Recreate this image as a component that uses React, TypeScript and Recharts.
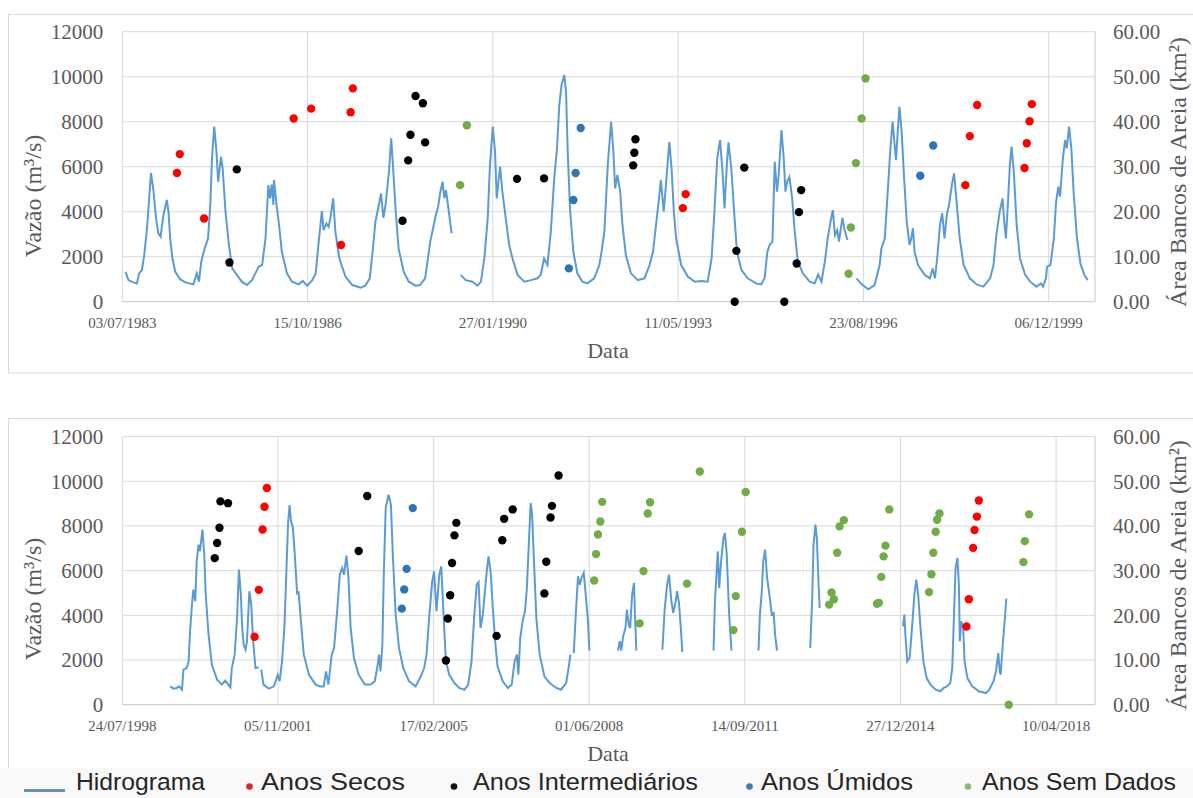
import React from "react";
import {
  ComposedChart,
  Line,
  Scatter,
  XAxis,
  YAxis,
  ZAxis,
  CartesianGrid,
} from "recharts";

// tick labels (Excel date axis, major unit 1200 days)
const ticksTopo = ["03/07/1983", "15/10/1986", "27/01/1990", "11/05/1993", "23/08/1996", "06/12/1999"];
const ticksBase = ["24/07/1998", "05/11/2001", "17/02/2005", "01/06/2008", "14/09/2011", "27/12/2014", "10/04/2018"];
const vazaoTicks = [0, 2000, 4000, 6000, 8000, 10000, 12000];
const areaTicks = [0, 10, 20, 30, 40, 50, 60];

// hidrograma 1983-2000 [ano decimal, vazão m3/s], one list per continuous stretch
const hidroTopo: number[][][] = [
  [
    [1983.56, 1330], [1983.61, 960], [1983.7, 860], [1983.76, 815], [1983.8, 1260], [1983.85, 1410], [1983.89, 2070],
    [1983.94, 3260], [1983.97, 4300], [1984.01, 5730], [1984.05, 5030], [1984.1, 3700], [1984.14, 3040], [1984.18, 2890],
    [1984.23, 3850], [1984.29, 4520], [1984.32, 4000], [1984.35, 2810], [1984.39, 1920], [1984.44, 1330], [1984.53, 990],
    [1984.62, 860], [1984.69, 815], [1984.76, 770], [1984.82, 1260], [1984.86, 890], [1984.9, 1780], [1984.96, 2370],
    [1985.02, 2810], [1985.06, 4300], [1985.09, 6370], [1985.13, 7780], [1985.17, 6660], [1985.2, 5330], [1985.25, 6440],
    [1985.28, 5920], [1985.33, 4000], [1985.39, 2520], [1985.45, 1480], [1985.53, 1190], [1985.62, 890], [1985.71, 740],
    [1985.8, 960], [1985.86, 1260], [1985.92, 1560], [1985.98, 1630], [1986.04, 2810], [1986.09, 5180], [1986.12, 4590],
    [1986.15, 5210], [1986.18, 4300], [1986.19, 5410], [1986.23, 4440], [1986.28, 3410], [1986.33, 2220], [1986.42, 1260],
    [1986.51, 890], [1986.63, 770], [1986.7, 920], [1986.78, 710], [1986.87, 960], [1986.93, 1260], [1986.99, 2810],
    [1987.04, 4030], [1987.07, 3180], [1987.12, 3480], [1987.16, 3330], [1987.19, 3700], [1987.24, 4590], [1987.28, 3110],
    [1987.35, 1920], [1987.46, 1110], [1987.58, 740], [1987.73, 620], [1987.81, 710], [1987.89, 1040], [1987.94, 2220],
    [1987.99, 3550], [1988.05, 4300], [1988.09, 4810], [1988.13, 3730], [1988.17, 4300], [1988.23, 5780], [1988.27, 7260],
    [1988.3, 6070], [1988.35, 4000], [1988.4, 2370], [1988.49, 1330], [1988.58, 890], [1988.7, 710], [1988.78, 740],
    [1988.87, 1040], [1988.96, 2670], [1989.06, 3850], [1989.1, 4220], [1989.14, 4890], [1989.18, 5330], [1989.21, 4600],
    [1989.24, 4960], [1989.29, 4000], [1989.34, 3040],
  ],
  [
    [1989.5, 1190], [1989.59, 960], [1989.71, 890], [1989.8, 710], [1989.86, 890], [1989.92, 1920], [1989.98, 3700],
    [1990.02, 6070], [1990.07, 7780], [1990.11, 6660], [1990.14, 4590], [1990.17, 5330], [1990.2, 6000], [1990.24, 4890],
    [1990.3, 3700], [1990.36, 2520], [1990.42, 1920], [1990.51, 1190], [1990.63, 890], [1990.75, 960], [1990.86, 1040],
    [1990.92, 1190], [1990.98, 1920], [1991.04, 1630], [1991.1, 3110], [1991.16, 5480], [1991.21, 6810], [1991.25, 8740],
    [1991.29, 9630], [1991.34, 10070], [1991.37, 9330], [1991.4, 6660], [1991.44, 4150], [1991.5, 2220], [1991.57, 1260],
    [1991.66, 890], [1991.75, 815], [1991.87, 1040], [1991.96, 1630], [1992.0, 2220], [1992.05, 3110], [1992.11, 6070],
    [1992.17, 8000], [1992.21, 6660], [1992.24, 5030], [1992.28, 5630], [1992.33, 4890], [1992.37, 3410], [1992.43, 2070],
    [1992.52, 1260], [1992.64, 960], [1992.76, 1040], [1992.85, 1630], [1992.91, 2220], [1992.97, 3550], [1993.01, 4440],
    [1993.05, 5410], [1993.1, 4000], [1993.14, 5180], [1993.2, 7110], [1993.24, 5920], [1993.28, 4000], [1993.32, 2810],
    [1993.41, 1630], [1993.53, 1110], [1993.65, 890], [1993.77, 920], [1993.88, 890], [1993.95, 1920], [1994.0, 4000],
    [1994.05, 6370], [1994.1, 7180], [1994.14, 5920], [1994.18, 4150], [1994.22, 6070], [1994.25, 7080], [1994.3, 5920],
    [1994.35, 4000], [1994.4, 2220], [1994.48, 1410], [1994.59, 1040], [1994.74, 815], [1994.83, 770], [1994.89, 1040],
    [1994.94, 2220], [1994.98, 2520], [1995.03, 2670], [1995.07, 6220], [1995.11, 4890], [1995.14, 5630], [1995.19, 7630],
    [1995.23, 6370], [1995.26, 4890], [1995.29, 5330], [1995.33, 5550], [1995.38, 4590], [1995.42, 3260], [1995.48, 1780],
    [1995.57, 1260], [1995.69, 890], [1995.78, 815], [1995.84, 1210], [1995.9, 890], [1995.96, 1780], [1996.01, 2810],
    [1996.06, 3550], [1996.1, 4070], [1996.14, 2960], [1996.18, 3180], [1996.21, 2670], [1996.27, 3730], [1996.31, 3180],
    [1996.36, 2740],
  ],
  [
    [1996.52, 1040], [1996.61, 770], [1996.73, 550], [1996.84, 740], [1996.93, 1630], [1996.96, 2370], [1997.02, 2810],
    [1997.08, 5180], [1997.12, 6810], [1997.16, 8000], [1997.19, 7110], [1997.22, 6290], [1997.25, 7550], [1997.28, 8660],
    [1997.32, 7550], [1997.36, 5630], [1997.41, 3550], [1997.46, 2520], [1997.49, 2810], [1997.52, 3260], [1997.55, 2220],
    [1997.61, 1630], [1997.73, 1190], [1997.82, 1040], [1997.87, 1480], [1997.91, 1040], [1997.95, 1920], [1998.0, 3410],
    [1998.04, 3930], [1998.08, 2810], [1998.12, 3850], [1998.16, 4300], [1998.21, 5180], [1998.25, 5700], [1998.29, 4590],
    [1998.35, 2810], [1998.42, 1630], [1998.53, 1040], [1998.65, 770], [1998.77, 670], [1998.89, 1040], [1998.95, 1630],
    [1999.0, 2960], [1999.06, 4000], [1999.11, 4590], [1999.14, 3550], [1999.17, 2810], [1999.21, 4590], [1999.24, 6070],
    [1999.27, 6890], [1999.31, 5780], [1999.36, 3410], [1999.42, 1920], [1999.51, 1210], [1999.6, 890], [1999.71, 670],
    [1999.79, 815], [1999.83, 670], [1999.88, 1040], [1999.9, 1560], [1999.96, 1630], [2000.02, 2810], [2000.06, 4440],
    [2000.1, 5110], [2000.13, 4670], [2000.18, 6370], [2000.22, 7180], [2000.25, 6810], [2000.29, 7780], [2000.33, 6810],
    [2000.37, 4890], [2000.43, 2810], [2000.49, 1700], [2000.56, 1190], [2000.62, 960],
  ],
];

// área de bancos de areia 1983-2000 [ano decimal, km2]
const secosTopo = [
  [1984.47, 28.6], [1984.52, 32.8], [1984.95, 18.5], [1986.54, 40.7], [1986.85, 42.9], [1987.38, 12.6], [1987.55, 42.1],
  [1987.59, 47.4], [1993.44, 20.8], [1993.49, 23.9], [1998.45, 25.9], [1998.53, 36.8], [1998.66, 43.7], [1999.5, 29.7],
  [1999.54, 35.2], [1999.59, 40.1], [1999.63, 43.9],
];
const interTopo = [
  [1985.4, 8.7], [1985.53, 29.4], [1988.47, 18.0], [1988.57, 31.4], [1988.61, 37.1], [1988.7, 45.7], [1988.83, 44.1],
  [1988.87, 35.4], [1990.5, 27.3], [1990.98, 27.4], [1992.56, 30.3], [1992.58, 33.1], [1992.6, 36.1], [1994.36, 0],
  [1994.39, 11.3], [1994.53, 29.8], [1995.24, 0], [1995.46, 8.5], [1995.5, 19.9], [1995.54, 24.8],
];
const umidosTopo = [
  [1991.42, 7.4], [1991.5, 22.6], [1991.54, 28.6], [1991.63, 38.6], [1997.65, 28.0], [1997.88, 34.7],
];
const semDadosTopo = [
  [1989.49, 25.9], [1989.61, 39.2], [1996.38, 6.2], [1996.42, 16.5], [1996.51, 30.8], [1996.61, 40.7], [1996.68, 49.6],
];

// hidrograma 1999-2017
const hidroBase: number[][][] = [
  [
    [1999.57, 820], [1999.64, 720], [1999.71, 750], [1999.76, 820], [1999.82, 670], [1999.85, 1570], [1999.92, 1640],
    [1999.96, 1940], [1999.99, 3280], [2000.03, 4480], [2000.06, 5150], [2000.1, 4630], [2000.13, 6420], [2000.17, 7160],
    [2000.2, 6870], [2000.25, 7840], [2000.29, 6720], [2000.32, 4930], [2000.38, 3130], [2000.45, 1790], [2000.56, 1120],
    [2000.66, 900], [2000.73, 1080], [2000.84, 780], [2000.87, 1640], [2000.93, 2240], [2000.98, 3880], [2001.02, 6050],
    [2001.06, 4930], [2001.09, 3430], [2001.12, 2690], [2001.16, 2460], [2001.19, 2840], [2001.24, 5080], [2001.28, 4480],
    [2001.32, 2840], [2001.37, 1640], [2001.44, 1670],
  ],
  [
    [2001.49, 1570], [2001.54, 900], [2001.65, 720], [2001.76, 820], [2001.84, 1340], [2001.88, 1050], [2001.93, 1940],
    [2001.98, 3430], [2002.02, 5820], [2002.06, 8210], [2002.09, 8930], [2002.12, 8210], [2002.16, 7910], [2002.2, 6720],
    [2002.25, 4930], [2002.28, 5080], [2002.33, 3730], [2002.39, 2240], [2002.5, 1340], [2002.64, 900], [2002.74, 820],
    [2002.81, 820], [2002.86, 1490], [2002.91, 900], [2002.98, 2240], [2003.03, 2540], [2003.1, 4330], [2003.15, 5820],
    [2003.2, 6120], [2003.24, 5820], [2003.29, 6670], [2003.33, 5820], [2003.38, 3430], [2003.45, 2090], [2003.55, 1340],
    [2003.68, 900], [2003.8, 900], [2003.89, 1050], [2003.94, 1640], [2003.98, 2240], [2004.01, 1490], [2004.05, 2690],
    [2004.08, 5820], [2004.12, 8810], [2004.18, 9400], [2004.23, 8960], [2004.27, 6720], [2004.33, 4030], [2004.4, 2540],
    [2004.49, 1640], [2004.61, 1050], [2004.75, 820], [2004.86, 1270], [2004.93, 1640], [2004.98, 2240], [2005.04, 4030],
    [2005.1, 5520], [2005.14, 5970], [2005.19, 4180], [2005.25, 5820], [2005.29, 6190], [2005.34, 4030], [2005.39, 1940],
    [2005.46, 1340], [2005.57, 970], [2005.67, 750], [2005.78, 670], [2005.86, 900], [2005.93, 1940], [2005.99, 4030],
    [2006.04, 5370], [2006.08, 5490], [2006.12, 3430], [2006.17, 4030], [2006.22, 5220], [2006.26, 6120], [2006.29, 6640],
    [2006.34, 5820], [2006.38, 4330], [2006.43, 2840], [2006.48, 1720], [2006.59, 1050], [2006.7, 750], [2006.78, 900],
    [2006.84, 1940], [2006.89, 2240], [2006.92, 1340], [2006.96, 2990], [2007.01, 3730], [2007.06, 4180], [2007.1, 5220],
    [2007.14, 7160], [2007.18, 9030], [2007.21, 8510], [2007.25, 6420], [2007.3, 3880], [2007.37, 2240], [2007.47, 1270],
    [2007.58, 970], [2007.72, 750], [2007.82, 670], [2007.93, 970], [2007.98, 1640], [2008.02, 2240],
  ],
  [
    [2008.09, 2310], [2008.14, 4330], [2008.18, 5750], [2008.22, 5370], [2008.25, 5670], [2008.3, 5900], [2008.33, 5220],
    [2008.39, 3730], [2008.42, 2420],
  ],
  [
    [2009.02, 2420], [2009.06, 2840], [2009.09, 2420], [2009.13, 3060], [2009.18, 3430], [2009.21, 4250], [2009.25, 3580],
    [2009.28, 3430], [2009.32, 4930], [2009.36, 5450], [2009.38, 4030], [2009.41, 2420],
  ],
  [
    [2009.96, 2460], [2010.01, 4330], [2010.06, 5370], [2010.1, 5820], [2010.15, 4630], [2010.19, 4100], [2010.24, 4630],
    [2010.27, 5080], [2010.31, 4550], [2010.35, 3430], [2010.38, 2360],
  ],
  [
    [2011.04, 2420], [2011.07, 4630], [2011.13, 6870], [2011.16, 5220], [2011.2, 6420], [2011.25, 7460], [2011.28, 7690],
    [2011.32, 6720], [2011.37, 4030], [2011.42, 2420],
  ],
  [
    [2011.99, 2420], [2012.02, 4030], [2012.06, 5080], [2012.09, 6420], [2012.13, 6940], [2012.17, 5700], [2012.22, 4930],
    [2012.27, 4030], [2012.31, 4100], [2012.34, 3130], [2012.38, 2420],
  ],
  [
    [2013.08, 2540], [2013.12, 4630], [2013.15, 7160], [2013.19, 8060], [2013.22, 7460], [2013.26, 5220], [2013.28, 4330],
  ],
  [
    [2015.04, 3510], [2015.07, 4030], [2015.09, 3130], [2015.13, 1940], [2015.18, 2090], [2015.23, 3430], [2015.28, 4930],
    [2015.32, 5600], [2015.36, 4930], [2015.41, 3430], [2015.47, 1940], [2015.54, 1190], [2015.62, 900], [2015.73, 670],
    [2015.83, 600], [2015.9, 750], [2015.97, 820], [2016.04, 970], [2016.08, 1640], [2016.12, 4180], [2016.15, 6120],
    [2016.19, 6570], [2016.22, 5370], [2016.24, 2840], [2016.27, 3730], [2016.31, 3430], [2016.34, 1940], [2016.4, 1190],
    [2016.5, 820], [2016.64, 600], [2016.79, 520], [2016.86, 670], [2016.95, 1050], [2017.0, 1490], [2017.05, 2310],
    [2017.08, 1490], [2017.1, 1340], [2017.15, 2840], [2017.19, 3880], [2017.22, 4750],
  ],
];

const secosBase = [
  [2001.35, 15.2], [2001.44, 25.7], [2001.52, 39.2], [2001.56, 44.3], [2001.61, 48.5], [2016.38, 17.5], [2016.43, 23.6],
  [2016.52, 35.1], [2016.55, 39.1], [2016.6, 42.1], [2016.64, 45.7],
];
const interBase = [
  [2000.51, 32.8], [2000.56, 36.2], [2000.61, 39.6], [2000.63, 45.5], [2000.79, 45.1], [2003.55, 34.4], [2003.73, 46.7],
  [2005.39, 9.9], [2005.43, 19.3], [2005.48, 24.5], [2005.52, 31.7], [2005.57, 37.9], [2005.61, 40.7], [2006.46, 15.4],
  [2006.58, 36.8], [2006.62, 41.6], [2006.8, 43.7], [2007.47, 24.9], [2007.51, 32.0], [2007.6, 41.9], [2007.63, 44.5],
  [2007.77, 51.3],
];
const umidosBase = [[2004.46, 21.5], [2004.51, 25.8], [2004.56, 30.4], [2004.69, 44.0]];
const semDadosBase = [
  [2008.52, 27.8], [2008.56, 33.7], [2008.6, 38.1], [2008.65, 41.0], [2008.69, 45.4], [2009.48, 18.2], [2009.56, 29.9],
  [2009.65, 42.8], [2009.7, 45.3], [2010.48, 27.1], [2010.75, 52.2], [2011.46, 16.7], [2011.51, 24.3], [2011.64, 38.7],
  [2011.72, 47.6], [2013.48, 22.4], [2013.53, 25.1], [2013.58, 23.6], [2013.65, 34.0], [2013.7, 39.9], [2013.79, 41.3],
  [2014.49, 22.6], [2014.53, 22.8], [2014.58, 28.6], [2014.63, 33.2], [2014.67, 35.6], [2014.75, 43.7], [2015.59, 25.2],
  [2015.64, 29.2], [2015.68, 34.0], [2015.73, 38.7], [2015.76, 41.4], [2015.81, 42.8], [2017.27, 0], [2017.58, 31.9],
  [2017.61, 36.6], [2017.7, 42.6],
];

// Excel serial dates (day 25569 = 01/01/1970)
const DAY = 86400000;
const fromLabel = (s: string) => {
  const [d, m, y] = s.split("/").map(Number);
  return Date.UTC(y, m - 1, d) / DAY + 25569;
};
const fromYear = (y: number) => {
  const Y = Math.floor(y);
  const start = Date.UTC(Y, 0, 1) / DAY;
  const len = Date.UTC(Y + 1, 0, 1) / DAY - start;
  return start + (y - Y) * len + 25569;
};
const toLabel = (v: number) => {
  const d = new Date(Math.round(v - 25569) * DAY);
  const p = (n: number) => String(n).padStart(2, "0");
  return `${p(d.getUTCDate())}/${p(d.getUTCMonth() + 1)}/${d.getUTCFullYear()}`;
};

const linha = (segs: number[][][]) => {
  const out: { t: number; q: number | null }[] = [];
  segs.forEach((seg, i) => {
    if (i > 0) out.push({ t: fromYear(seg[0][0]) - 1, q: null });
    seg.forEach(([y, q]) => out.push({ t: fromYear(y), q }));
  });
  return out;
};
const pontos = (arr: number[][]) => arr.map(([y, a]) => ({ t: fromYear(y), a }));

const GRAY = "#595959";
const GRID = "#d9d9d9";
const SERIF = "'Liberation Serif', 'Times New Roman', serif";

interface PainelProps {
  top: number;
  height: number;
  plotTop: number;
  plotBottom: number;
  xMax: number;
  tickLabels: string[];
  hidro: number[][][];
  secos: number[][];
  inter: number[][];
  umidos: number[][];
  semDados: number[][];
}

function Painel(p: PainelProps) {
  const ticks = p.tickLabels.map(fromLabel);
  return (
    <div style={{ position: "absolute", left: 0, top: p.top, width: 1193, height: p.height }}>
      <ComposedChart width={1193} height={p.height} margin={{ top: p.plotTop, right: 0, bottom: 0, left: 0 }}>
        <CartesianGrid xAxisId="t" yAxisId="q" stroke={GRID} />
        <XAxis
          xAxisId="t"
          type="number"
          dataKey="t"
          domain={[ticks[0], p.xMax]}
          ticks={ticks}
          tickFormatter={toLabel}
          height={p.height - p.plotBottom}
          tickLine={false}
          axisLine={{ stroke: "#cfcfcf" }}
          tickMargin={9.5}
          tick={{ fill: GRAY, fontSize: 15, fontFamily: SERIF }}
          allowDataOverflow
        />
        <YAxis
          yAxisId="q"
          domain={[0, 12000]}
          ticks={vazaoTicks}
          width={122.3}
          tickLine={false}
          axisLine={false}
          tickMargin={13}
          tick={{ fill: GRAY, fontSize: 21, fontFamily: SERIF }}
        />
        <YAxis
          yAxisId="a"
          orientation="right"
          dataKey="a"
          domain={[0, 60]}
          ticks={areaTicks}
          tickFormatter={(v: number) => v.toFixed(2)}
          width={98}
          tickLine={false}
          axisLine={{ stroke: GRID }}
          tickMargin={12}
          tick={{ fill: GRAY, fontSize: 21, fontFamily: SERIF }}
        />
        <ZAxis range={[55, 55]} />
        <Line
          xAxisId="t"
          yAxisId="q"
          data={linha(p.hidro)}
          dataKey="q"
          stroke="#5b9bd5"
          strokeWidth={2}
          dot={false}
          connectNulls={false}
          isAnimationActive={false}
        />
        <Scatter xAxisId="t" yAxisId="a" data={pontos(p.secos)} dataKey="a" fill="#ff0000" isAnimationActive={false} />
        <Scatter xAxisId="t" yAxisId="a" data={pontos(p.inter)} dataKey="a" fill="#000000" isAnimationActive={false} />
        <Scatter xAxisId="t" yAxisId="a" data={pontos(p.umidos)} dataKey="a" fill="#2e75b6" isAnimationActive={false} />
        <Scatter xAxisId="t" yAxisId="a" data={pontos(p.semDados)} dataKey="a" fill="#70ad47" isAnimationActive={false} />
      </ComposedChart>
    </div>
  );
}

const legenda = [
  { nome: "Anos Secos", cor: "#d8262b", dot: 249.5, x: 261, w: 144 },
  { nome: "Anos Intermediários", cor: "#111111", dot: 454, x: 473, w: 225 },
  { nome: "Anos Úmidos", cor: "#4a78b0", dot: 749.5, x: 761, w: 152 },
  { nome: "Anos Sem Dados", cor: "#8db872", dot: 968, x: 982, w: 194 },
];

function Titulos({ dy }: { dy: number }) {
  const t = { fill: GRAY, fontFamily: SERIF, textAnchor: "middle" as const, dominantBaseline: "central" as const };
  return (
    <g>
      <text {...t} x={33} y={196 + dy} fontSize={24} transform={`rotate(-90 33 ${196 + dy})`}>
        Vazão (m³/s)
      </text>
      <text {...t} x={1178} y={172 + dy} fontSize={24} transform={`rotate(-90 1178 ${172 + dy})`}>
        Área Bancos de Areia (km²)
      </text>
      <text {...t} x={608} y={350 + dy} fontSize={22}>
        Data
      </text>
    </g>
  );
}

export default function App() {
  return (
    <div style={{ position: "absolute", left: 0, top: 0, width: 1193, height: 798, background: "#fff", overflow: "hidden" }}>
      <Painel
        top={0}
        height={380}
        plotTop={31.7}
        plotBottom={301.7}
        xMax={36800}
        tickLabels={ticksTopo}
        hidro={hidroTopo}
        secos={secosTopo}
        inter={interTopo}
        umidos={umidosTopo}
        semDados={semDadosTopo}
      />
      <Painel
        top={400}
        height={380}
        plotTop={36.6}
        plotBottom={304.7}
        xMax={43500}
        tickLabels={ticksBase}
        hidro={hidroBase}
        secos={secosBase}
        inter={interBase}
        umidos={umidosBase}
        semDados={semDadosBase}
      />
      <svg width={1193} height={798} style={{ position: "absolute", left: 0, top: 0, pointerEvents: "none" }}>
        <rect x={8.5} y={14.5} width={1200} height={358.5} fill="none" stroke={GRID} />
        <rect x={8.5} y={418.5} width={1200} height={400} fill="none" stroke={GRID} />
        <Titulos dy={0} />
        <Titulos dy={403} />
        <rect x={0} y={768} width={1193} height={30} fill="#f9f9f9" />
        <line x1={24} x2={65} y1={790.5} y2={790.5} stroke="#6f8fb0" strokeWidth={3} />
        <text x={76} y={789.5} fontSize={24.5} fill="#262626" fontFamily="'Liberation Sans', Arial, sans-serif" textLength={129} lengthAdjust="spacingAndGlyphs">
          Hidrograma
        </text>
        {legenda.map((l) => (
          <g key={l.nome}>
            <circle cx={l.dot} cy={786.5} r={3.3} fill={l.cor} />
            <text x={l.x} y={789.5} fontSize={24.5} fill="#262626" fontFamily="'Liberation Sans', Arial, sans-serif" textLength={l.w} lengthAdjust="spacingAndGlyphs">
              {l.nome}
            </text>
          </g>
        ))}
      </svg>
    </div>
  );
}
